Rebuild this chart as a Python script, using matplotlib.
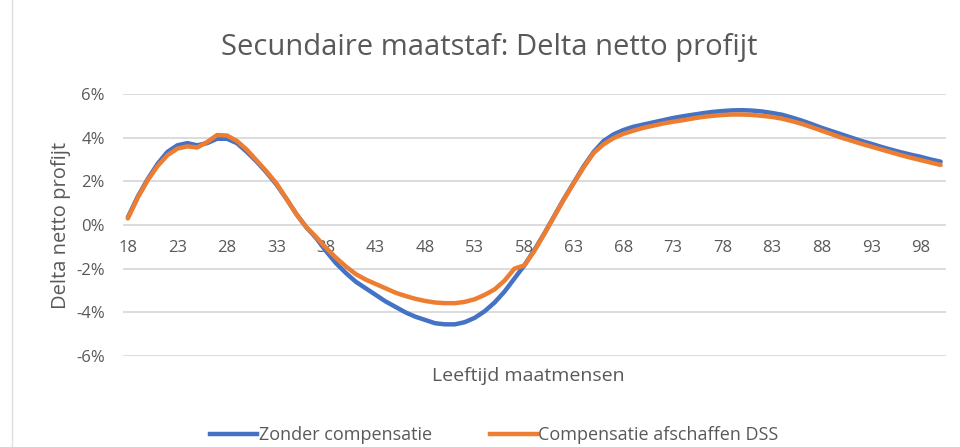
import matplotlib
matplotlib.use('Agg')
import numpy as np
from matplotlib import pyplot as plt
from matplotlib.lines import Line2D

plt.rcParams['font.family'] = ['Open Sans', 'DejaVu Sans']

ages = np.arange(18, 101)
zonder = [0.35, 1.3, 2.1, 2.8, 3.35, 3.65, 3.75, 3.65, 3.75, 3.95,
          3.95, 3.75, 3.35, 2.9, 2.4, 1.85, 1.2, 0.5, -0.1, -0.6,
          -1.2, -1.75, -2.2, -2.6, -2.9, -3.2, -3.5, -3.75, -4.0, -4.2,
          -4.35, -4.5, -4.55, -4.55, -4.45, -4.25, -3.95, -3.55, -3.05, -2.45,
          -1.85, -1.15, -0.4, 0.4, 1.2, 1.95, 2.7, 3.35, 3.85, 4.15,
          4.35, 4.5, 4.6, 4.7, 4.8, 4.9, 4.98, 5.05, 5.12, 5.18,
          5.22, 5.25, 5.26, 5.24, 5.2, 5.13, 5.05, 4.92, 4.78, 4.62,
          4.45, 4.3, 4.15, 4.0, 3.85, 3.72, 3.58, 3.45, 3.33, 3.22,
          3.12, 3.0, 2.9]
compensatie = [0.3, 1.25, 2.05, 2.7, 3.2, 3.5, 3.6, 3.55, 3.8, 4.12,
               4.1, 3.85, 3.45, 2.95, 2.45, 1.9, 1.2, 0.5, -0.1, -0.55,
               -1.05, -1.5, -1.9, -2.25, -2.5, -2.7, -2.9, -3.1, -3.25, -3.38,
               -3.48, -3.55, -3.58, -3.58, -3.52, -3.4, -3.2, -2.95, -2.55, -2.0,
               -1.85, -1.2, -0.42, 0.38, 1.18, 1.93, 2.65, 3.3, 3.7, 3.98,
               4.18, 4.32, 4.45, 4.55, 4.65, 4.73, 4.8, 4.88, 4.95, 5.0,
               5.04, 5.06, 5.06, 5.04, 5.0, 4.95, 4.87, 4.76, 4.63, 4.48,
               4.32, 4.16, 4.0, 3.86, 3.72, 3.59, 3.46, 3.33, 3.2, 3.08,
               2.97, 2.86, 2.75]
yticks = [-6, -4, -2, 0, 2, 4, 6]
xticks = list(range(18, 101, 5))

blue = '#4472C4'
orange = '#ED7D31'
grey = '#595959'

fig = plt.figure(figsize=(9.6, 4.47), dpi=100)
ax = fig.add_axes([0.128, 0.2036, 0.857, 0.5861])

for y in yticks:
    ax.axhline(y, color='#d9d9d9', lw=1.3, zorder=0)

ax.plot(ages, zonder, color=blue, lw=3.2, solid_capstyle='round')
ax.plot(ages, compensatie, color=orange, lw=3.2, solid_capstyle='round')

ax.set_xlim(17.5, 100.5)
ax.set_ylim(-6, 6)
ax.set_yticks(yticks)
ax.set_yticklabels([f'{v}%' for v in yticks])
ax.set_xticks(xticks)
ax.set_xticklabels([str(v) for v in xticks])
for s in ax.spines.values():
    s.set_visible(False)
ax.spines['bottom'].set_position(('data', 0))
ax.tick_params(axis='x', length=0, pad=11, labelsize=12, labelcolor=grey)
ax.tick_params(axis='y', length=0, pad=13, labelsize=12, labelcolor=grey)

ax.set_ylabel('Delta netto profijt', fontsize=14.5, color=grey, labelpad=4)
fig.text(0.55, 1 - 376 / 447, 'Leeftijd maatmensen', fontsize=14, color=grey,
         ha='center', va='center')
fig.text(0.51, 1 - 48 / 447, 'Secundaire maatstaf: Delta netto profijt',
         fontsize=21, color=grey, ha='center', va='center')

handles = [Line2D([], [], color=blue, lw=3.2), Line2D([], [], color=orange, lw=3.2)]
fig.legend(handles, ['Zonder compensatie', 'Compensatie afschaffen DSS'],
           loc='center', bbox_to_anchor=(0.515, 1 - 435 / 447), ncol=2, frameon=False,
           fontsize=13, labelcolor=grey, handlelength=2.6, handletextpad=0.1,
           columnspacing=3.2)

fig.add_artist(Line2D([12 / 960, 12 / 960], [0, 1], color='#e0e0e0', lw=1))

fig.savefig('out.png', dpi=100)
